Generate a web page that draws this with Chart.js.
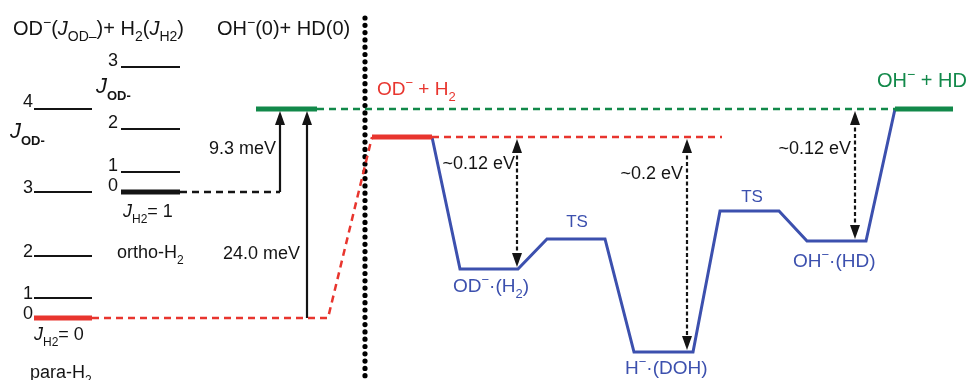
<!DOCTYPE html>
<html lang="en">
<head>
  <meta charset="UTF-8" />
  <title>OD- + H2 energy diagram</title>
  <style>
    html, body { margin: 0; padding: 0; background: #fff; }
    #wrap { width: 966px; height: 380px; position: relative; }
  </style>
</head>
<body>
<div id="wrap"><canvas id="diagram"></canvas></div>

<script src="https://cdn.jsdelivr.net/npm/chart.js"></script>
<script>
// diagram units: x left->right, y top->bottom (schematic energy, higher = smaller y)
const odJ = ['0', '1', '2', '3', '4'];
const odLevel = [318, 298, 256, 192, 109];
const h2J = ['0', '1', '2', '3'];
const h2Level = [192, 172, 129, 67];
const odLadderX = [34, 92];
const h2LadderX = [121, 180];

// reaction path OD- + H2 -> OH- + HD
const reactantX = [372, 432];
const reactantY = 137;
const productX = [895, 953];
const productY = 109;
const thresholdX = [256, 317];
const pathX = [432, 460, 518, 547, 605, 634, 693, 720, 779, 807, 866, 895];
const pathY = [137, 269, 269, 239, 239, 352, 352, 211, 211, 241, 241, 109];

// dashed guide lines
const paraGuideX = [92, 328, 372];
const paraGuideY = [318, 318, 137];
const reactGuideX = [432, 722];
const prodGuideX = [317, 895];
const orthoGuideX = [180, 280];

// energy gap arrows
const arrowX = [280, 307, 517, 687, 855];
const arrowFrom = [192, 318, 137, 137, 109];
const arrowTo = [109, 109, 269, 352, 241];
const arrowDashed = [false, false, true, true, true];

const divider = { x: 365, y: [18, 380] };

const RED = '#e8352e', GREEN = '#12894a', BLUE = '#3c50ae', INK = '#141414';

function seg(xs, ys, color, width, dash) {
  const data = xs.map((x, i) => ({ x: x, y: Array.isArray(ys) ? ys[i] : ys }));
  return { data, borderColor: color, borderWidth: width, borderDash: dash || [],
           showLine: true, pointRadius: 0, fill: false, tension: 0 };
}

const datasets = [];
odLevel.forEach((y, i) => datasets.push(seg(odLadderX, y, i === 0 ? RED : INK, i === 0 ? 5 : 2)));
h2Level.forEach((y, i) => datasets.push(seg(h2LadderX, y, INK, i === 0 ? 5 : 2)));
datasets.push(seg(paraGuideX, paraGuideY, RED, 2.5, [7, 5]));
datasets.push(seg(reactGuideX, reactantY, RED, 2.5, [7, 5]));
datasets.push(seg(prodGuideX, productY, GREEN, 2.5, [7, 5]));
datasets.push(seg(orthoGuideX, 192, INK, 2.5, [7, 5]));
datasets.push(seg(thresholdX, productY, GREEN, 5));
datasets.push(seg(reactantX, reactantY, RED, 5));
datasets.push(seg(productX, productY, GREEN, 5));
datasets.push(seg(pathX, pathY, BLUE, 3));
arrowX.forEach((x, i) => {
  const tip = arrowFrom[i] > arrowTo[i] ? 12 : -12;
  const start = arrowDashed[i] ? arrowFrom[i] + (arrowFrom[i] < arrowTo[i] ? 12 : -12) : arrowFrom[i];
  datasets.push(seg([x, x], [start, arrowTo[i] + tip], INK, 2.2, arrowDashed[i] ? [4, 2.5] : []));
});
const dots = seg([divider.x, divider.x], divider.y, '#000', 5.2, [0, 7.3]);
dots.borderCapStyle = 'round';
datasets.push(dots);

const FAM = '"Liberation Sans", Arial, Helvetica, sans-serif';

// rich text: parts of [text, kind]
function drawRich(ctx, parts, x, y, size, color, align) {
  const kinds = {
    n:    { f: `${size}px ${FAM}`, dy: 0 },
    i:    { f: `italic ${size}px ${FAM}`, dy: 0 },
    J:    { f: `italic ${Math.round(size * 1.22)}px ${FAM}`, dy: 0 },
    sup:  { f: `${Math.round(size * 0.68)}px ${FAM}`, dy: -size * 0.42 },
    sub:  { f: `${Math.round(size * 0.68)}px ${FAM}`, dy: size * 0.32 },
    bsub: { f: `bold ${Math.round(size * 0.72)}px ${FAM}`, dy: size * 0.4 }
  };
  let w = 0;
  parts.forEach(p => { ctx.font = kinds[p[1] || 'n'].f; w += ctx.measureText(p[0]).width; });
  let cx = align === 'right' ? x - w : align === 'center' ? x - w / 2 : x;
  ctx.fillStyle = color;
  ctx.textBaseline = 'alphabetic';
  ctx.textAlign = 'left';
  parts.forEach(p => {
    const k = kinds[p[1] || 'n'];
    ctx.font = k.f;
    ctx.fillText(p[0], cx, y + k.dy);
    cx += ctx.measureText(p[0]).width;
  });
}

const labels = [
  { at: [13, 35], c: INK, s: 20, p: [['OD'], ['−', 'sup'], ['('], ['J', 'i'], ['OD–', 'sub'], [')+ H'], ['2', 'sub'], ['('], ['J', 'i'], ['H2', 'sub'], [')']] },
  { at: [217, 35], c: INK, s: 20, p: [['OH'], ['−', 'sup'], ['(0)+ HD(0)']] },
  { at: [10, 138], c: INK, s: 18, p: [['J', 'J'], ['OD-', 'bsub']] },
  { at: [96, 93], c: INK, s: 18, p: [['J', 'J'], ['OD-', 'bsub']] },
  { at: [123, 217], c: INK, s: 18, p: [['J', 'i'], ['H2', 'sub'], ['= 1']] },
  { at: [117, 258], c: INK, s: 18, p: [['ortho-H'], ['2', 'sub']] },
  { at: [34, 340], c: INK, s: 18, p: [['J', 'i'], ['H2', 'sub'], ['= 0']] },
  { at: [30, 378], c: INK, s: 18, p: [['para-H'], ['2', 'sub']] },
  { at: [276, 154], c: INK, s: 18, a: 'right', p: [['9.3 meV']] },
  { at: [300, 259], c: INK, s: 18, a: 'right', p: [['24.0 meV']] },
  { at: [377, 95], c: RED, s: 19, p: [['OD'], ['−', 'sup'], [' + H'], ['2', 'sub']] },
  { at: [877, 87], c: GREEN, s: 20, p: [['OH'], ['−', 'sup'], [' + HD']] },
  { at: [515, 169], c: INK, s: 18, a: 'right', p: [['~0.12 eV']] },
  { at: [683, 179], c: INK, s: 18, a: 'right', p: [['~0.2 eV']] },
  { at: [851, 154], c: INK, s: 18, a: 'right', p: [['~0.12 eV']] },
  { at: [577, 227], c: BLUE, s: 17, a: 'center', p: [['TS']] },
  { at: [752, 202], c: BLUE, s: 17, a: 'center', p: [['TS']] },
  { at: [453, 292], c: BLUE, s: 19, p: [['OD'], ['−', 'sup'], ['·(H'], ['2', 'sub'], [')']] },
  { at: [625, 374], c: BLUE, s: 19, p: [['H'], ['−', 'sup'], ['·(DOH)']] },
  { at: [793, 267], c: BLUE, s: 19, p: [['OH'], ['−', 'sup'], ['·(HD)']] }
];

const annotate = {
  id: 'annotate',
  afterDatasetsDraw(chart) {
    const ctx = chart.ctx, X = chart.scales.x, Y = chart.scales.y;
    ctx.save();
    // arrow heads, tip touching the level
    arrowX.forEach((x, i) => {
      const px = X.getPixelForValue(x);
      const head = (yv, dir) => {
        const py = Y.getPixelForValue(yv) + dir * 2;
        ctx.beginPath();
        ctx.moveTo(px, py);
        ctx.lineTo(px - 5, py + dir * 14);
        ctx.lineTo(px + 5, py + dir * 14);
        ctx.closePath();
        ctx.fillStyle = INK;
        ctx.fill();
      };
      const up = arrowFrom[i] > arrowTo[i] ? 1 : -1;
      head(arrowTo[i], up);
      if (arrowDashed[i]) head(arrowFrom[i], -up);
    });
    // ladder numbers
    odLevel.forEach((y, i) => drawRich(ctx, [[odJ[i]]], X.getPixelForValue(odLadderX[0] - 1), Y.getPixelForValue(y) - (i === 4 ? 2 : -1), 18, INK, 'right'));
    h2Level.forEach((y, i) => drawRich(ctx, [[h2J[i]]], X.getPixelForValue(h2LadderX[0] - 3), Y.getPixelForValue(y) - 1, 18, INK, 'right'));
    labels.forEach(l => drawRich(ctx, l.p, X.getPixelForValue(l.at[0]), Y.getPixelForValue(l.at[1]), l.s, l.c, l.a || 'left'));
    ctx.restore();
  }
};

new Chart(document.getElementById('diagram'), {
  type: 'scatter',
  data: { datasets },
  options: {
    responsive: true,
    maintainAspectRatio: false,
    animation: false,
    layout: { padding: 0 },
    plugins: { legend: { display: false }, tooltip: { enabled: false } },
    scales: {
      x: { type: 'linear', min: 0, max: 966, display: false },
      y: { type: 'linear', min: 0, max: 380, reverse: true, display: false }
    }
  },
  plugins: [annotate]
});
</script>
</body>
</html>
